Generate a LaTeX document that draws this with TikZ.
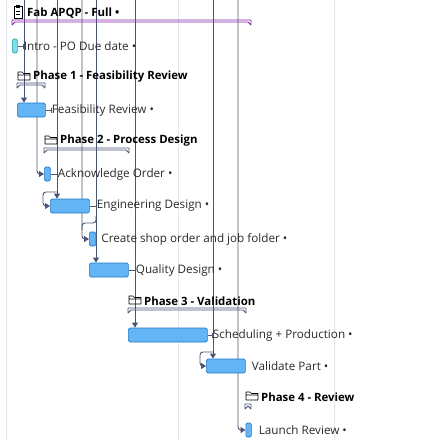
\documentclass[tikz,border=0pt]{standalone}
\usepackage{fontspec}
\setmainfont{Open Sans}
\usepackage{xcolor}
\definecolor{barfill}{HTML}{64B5F6}
\definecolor{barline}{HTML}{1E78C8}
\definecolor{introfill}{HTML}{80DEEA}
\definecolor{introline}{HTML}{26A69A}
\definecolor{link}{HTML}{4A5575}
\definecolor{grid}{HTML}{E2E7EF}
\definecolor{proj}{HTML}{8324A8}
\definecolor{ink}{HTML}{2A2A2A}
\usepackage{tikz}
\usetikzlibrary{arrows.meta,positioning,calc,backgrounds}

% bracket under a group heading: colour, left x, right x, top y
\newcommand{\phasebrace}[4][link]{%
  \draw[draw=#1, line width=0.8pt, line join=round]
    (#2,#4) -- (#3,#4) -- ++(0,5) -- ++(-3,-3) -- ($(#2,#4)+(3,2)$) -- ++(-3,3) -- cycle;}

\begin{document}
\begin{tikzpicture}[
  x=1pt, y=-1pt,
  font=\fontsize{11.7}{14}\selectfont,
  >={Triangle[length=5pt,width=6pt]},
  node distance=6pt,
  bar/.style={draw=barline, fill=barfill, rounded corners=1.5pt, minimum height=14pt, inner sep=0pt, line width=0.7pt, anchor=west},
  ms/.style={bar, draw=introline, fill=introfill},
  lbl/.style={anchor=west, inner sep=0pt, text=ink},
  head/.style={anchor=west, inner sep=0pt, font=\fontsize{11.4}{13}\selectfont\bfseries},
  dep/.style={draw=link, line width=0.9pt, rounded corners=3pt},
  lead/.style={draw=link, line width=0.6pt},
  gridline/.style={draw=grid, line width=0.8pt},
  folder/.pic={\draw[line width=0.7pt, line join=round] (0,4) -- (0,-4) -- (4,-4) -- (5.5,-2.5) -- (12,-2.5) -- (12,4) -- cycle (0,-1) -- (12,-1);},
  clipboard/.pic={\draw[line width=0.7pt] (0,-6) rectangle (8,6) (2,-1) -- (6,-1) (2,2) -- (6,2); \fill (2,-7) rectangle (6,-4.5);},
]
\useasboundingbox (0,0) rectangle (437,440);

% Project
\pic at (14,12) {clipboard};
\node[head] (title) at (27,13) {Fab APQP - Full •};
\phasebrace[proj]{12}{251}{20}

\node[ms, minimum width=5pt] (intro) at (12,46) {};
\node[lbl, right=of intro] (intro-lbl) {Intro - PO Due date •};

% Phase 1
\node[head] (ph1) at (33,77) {Phase 1 - Feasibility Review};
\pic at (18,76) {folder};
\phasebrace{17}{45}{83}
\node[bar, minimum width=28pt] (feas) at (17,110) {};
\node[lbl, right=of feas] (feas-lbl) {Feasibility Review •};

% Phase 2
\node[head] (ph2) at (60,141) {Phase 2 - Process Design};
\pic at (45,140) {folder};
\phasebrace{44}{129}{148}
\node[bar, minimum width=6pt] (ack) at (44,174) {};
\node[lbl, right=7pt of ack] (ack-lbl) {Acknowledge Order •};
\node[bar, minimum width=39pt] (engdes) at (50,206) {};
\node[lbl, right=7pt of engdes] (engdes-lbl) {Engineering Design •};
\node[bar, minimum width=6.5pt] (shop) at (89,239) {};
\node[lbl, right=5pt of shop] (shop-lbl) {Create shop order and job folder •};
\node[bar, minimum width=39pt] (qual) at (89,270) {};
\node[lbl, right=7pt of qual] (qual-lbl) {Quality Design •};

% Phase 3
\node[head] (ph3) at (144,301) {Phase 3 - Validation};
\pic at (129,300) {folder};
\phasebrace{128}{246}{308}
\node[bar, minimum width=79pt] (sched) at (128,335) {};
\node[lbl, right=5pt of sched] (sched-lbl) {Scheduling + Production •};
\node[bar, minimum width=39pt] (valid) at (206,366) {};
\node[lbl, right=of valid] (valid-lbl) {Validate Part •};

% Phase 4
\node[head] (ph4) at (261,397) {Phase 4 - Review};
\pic at (246,396) {folder};
\phasebrace{245}{251}{404}
\node[bar, minimum width=5.5pt] (launch) at (245.5,430) {};
\node[lbl, right=7pt of launch] (launch-lbl) {Launch Review •};

% leaders
\foreach \t in {intro,feas,ack,engdes,qual,sched}
  \draw[lead] (\t.east) -- (\t-lbl.west) ++(0,-2.5) -- ++(0,5);

% links
\coordinate (top1) at (24,0);
\coordinate (top2) at (37,0);
\coordinate (top3) at (57,0);
\coordinate (top4) at (82,0);
\coordinate (top5) at (96,0);
\coordinate (top6) at (135,0);
\coordinate (top7) at (213,0);
\coordinate (top8) at (238,0);
\coordinate (j1) at (57,192);
\coordinate (j2) at (96,216);
\coordinate (j3) at (82,230);
\coordinate (j4) at (213,352);

\begin{scope}[on background layer]
\draw[gridline] (6,0) -- (6,440);
\draw[gridline] (178,0) -- (178,440);
\draw[gridline] (334,0) -- (334,440);

\draw[dep,->] (top1) -- (top1 |- feas.north);
\draw[dep,->] (top2) |- (ack.west);
\draw[dep,->] (top3) -- (top3 |- engdes.north);
\draw[dep,->] (top4) |- (shop.west);
\draw[dep,->] (top5) -- (top5 |- qual.north);
\draw[dep,->] (top6) -- (top6 |- sched.north);
\draw[dep,->] (top7) -- (top7 |- valid.north);
\draw[dep,->] (top8) |- (launch.west);

\draw[dep,->] (j1) -| ([xshift=-7pt]engdes.west) -- (engdes.west);
\draw[dep] (j2) |- ($(j2)!0.5!(j3)$) -| (j3);
\draw[dep,->] (j4) -| ([xshift=-6pt]valid.west) -- (valid.west);
\end{scope}
\end{tikzpicture}
\end{document}
